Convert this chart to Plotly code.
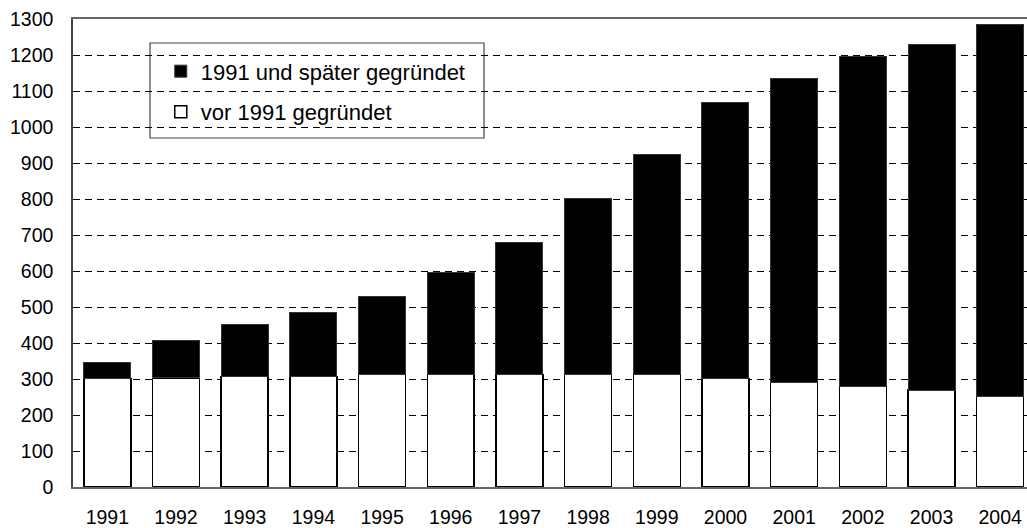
import plotly.graph_objects as go

years = ["1991", "1992", "1993", "1994", "1995", "1996", "1997",
         "1998", "1999", "2000", "2001", "2002", "2003", "2004"]
vor_1991 = [302, 303, 307, 307, 313, 313, 313, 313, 313, 302, 291, 280, 269, 252]
ab_1991 = [43, 104, 144, 177, 216, 283, 367, 489, 611, 766, 844, 916, 961, 1033]
y_ticks = list(range(0, 1301, 100))

font_family = "Liberation Sans, Arial, sans-serif"

fig = go.Figure()
fig.add_trace(go.Bar(
    x=years, y=vor_1991, name="vor 1991 gegründet",
    marker=dict(color="white", line=dict(color="black", width=1.5)),
    legendgroup="a", legendrank=2,
))
fig.add_trace(go.Bar(
    x=years, y=ab_1991, name="1991 und später gegründet",
    marker=dict(color="black", line=dict(color="#333333", width=1)),
    legendgroup="b", legendrank=1,
))

fig.update_layout(
    width=1027, height=528,
    margin=dict(l=73, r=0, t=19, b=41, autoexpand=False),
    barmode="stack", bargap=0.316,
    paper_bgcolor="white", plot_bgcolor="white",
    font=dict(family=font_family, size=19, color="black"),
    showlegend=True,
    legend=dict(
        x=0.092, y=0.933, xanchor="left", yanchor="top",
        traceorder="grouped", tracegroupgap=9,
        bgcolor="rgba(0,0,0,0)", borderwidth=0,
        font=dict(family=font_family, size=22, color="black"),
        itemwidth=30,
    ),
    xaxis=dict(
        type="category", range=[-0.5, 13.39], automargin=False,
        showline=True, linecolor="#666666", linewidth=1.5, mirror=True,
        showgrid=False, ticks="", ticklabelstandoff=12,
        tickfont=dict(size=19.5),
    ),
    yaxis=dict(
        range=[0, 1300], tickvals=y_ticks, automargin=False,
        showline=True, linecolor="#444444", linewidth=1.5, mirror=False,
        showgrid=True, gridcolor="black", gridwidth=1, griddash="7px,5px",
        zeroline=False, ticks="", ticklabelstandoff=14,
        tickfont=dict(size=19.5),
    ),
    shapes=[dict(
        type="rect", xref="paper", yref="paper",
        x0=(150 - 73) / 954, x1=(484 - 73) / 954,
        y0=(487 - 138) / 468, y1=(487 - 43) / 468,
        line=dict(color="#444444", width=1.2), fillcolor="white",
        layer="below",
    )],
)

fig.write_html(
    "out.html",
    config={"displayModeBar": False},
    post_script="document.body.style.margin='0';document.body.style.overflow='hidden';",
)
